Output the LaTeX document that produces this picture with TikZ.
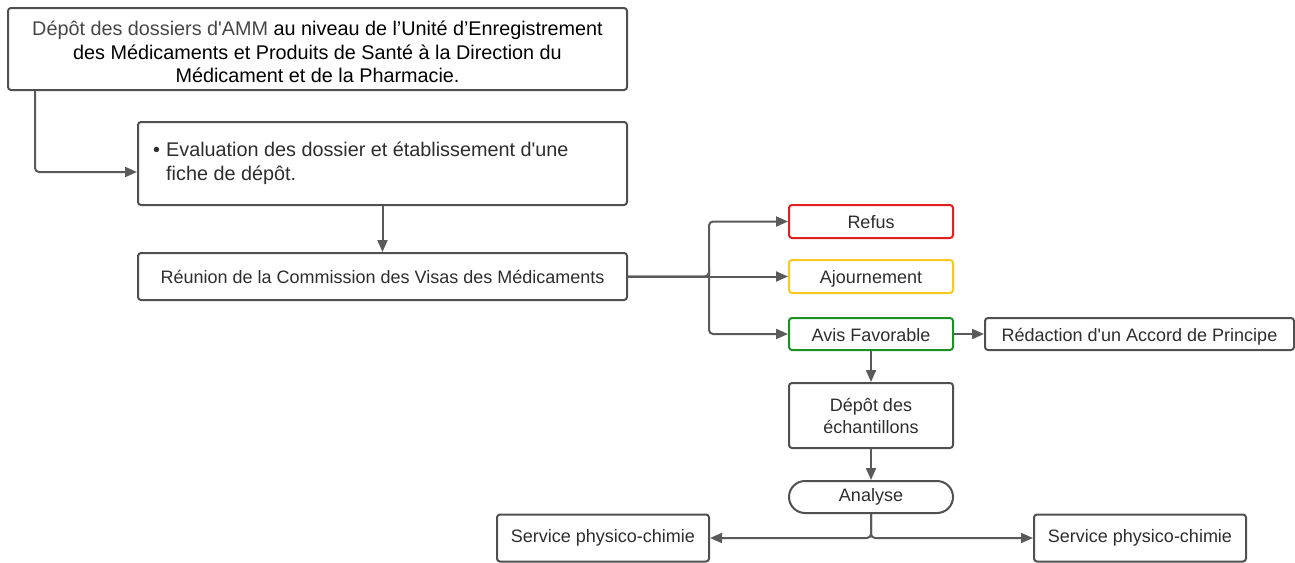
\documentclass[tikz,border=0pt]{standalone}
\usepackage{fontspec}
\setmainfont{Liberation Sans}
\usetikzlibrary{arrows.meta,calc}
\definecolor{linec}{RGB}{90,90,90}
\definecolor{borderc}{RGB}{80,80,80}
\definecolor{textc}{RGB}{45,45,45}
\definecolor{lightt}{RGB}{70,70,70}
\definecolor{redc}{RGB}{228,30,30}
\definecolor{yelc}{RGB}{250,200,30}
\definecolor{grnc}{RGB}{25,145,35}
\newcommand{\sq}{\textquotesingle}
\tikzset{
  box/.style={draw=borderc, line width=2pt, rounded corners=3pt, inner sep=0pt, text=textc, font=\fontsize{18}{22}\selectfont},
  onebox/.style={box, text height=14pt, text depth=0pt},
  bigbox/.style={box, font=\fontsize{19.8}{23.5}\selectfont},
  arr/.style={draw=linec, line width=2pt, -{Triangle[length=12pt,width=10pt]}},
}
\begin{document}
\begin{tikzpicture}[x=1pt,y=-1pt]
\useasboundingbox (0,0) rectangle (1295,562);
\node[bigbox, minimum width=619pt, minimum height=82pt] (top) at (317.5,49) {};
\node[inner sep=0pt, align=center, font=\fontsize{19.8}{23.5}\selectfont] (toptxt) at (317.5,52)
  {{\color{lightt}Dépôt des dossiers d\sq AMM} {\color{black}au niveau de l’Unité d’Enregistrement}\\
   \color{black}des Médicaments et Produits de Santé à la Direction du\\
   \color{black}Médicament et de la Pharmacie.};
\node[bigbox, minimum width=489pt, minimum height=83pt] (eval) at (382.5,163.5) {};
\node[anchor=west, inner sep=0pt, align=left, text=textc, font=\fontsize{19.8}{23.5}\selectfont] (evaltxt) at (153,163.5)
  {\makebox[13pt][l]{•}Evaluation des dossier et établissement d\sq une\\\hspace*{13pt}fiche de dépôt.};
\node[box, font=\fontsize{18}{22}\selectfont, minimum width=489pt, minimum height=47pt] (reunion) at (382.5,276.5)
  {Réunion de la Commission des Visas des Médicaments};
\node[onebox, draw=redc, minimum width=164pt, minimum height=33pt] (refus) at (871,221.5) {Refus};
\node[onebox, draw=yelc, minimum width=164pt, minimum height=33pt] (ajourn) at (871,276.5) {Ajournement};
\node[onebox, draw=grnc, minimum width=164pt, minimum height=32pt] (avis) at (871,334) {Avis Favorable};
\node[onebox, minimum width=309pt, minimum height=32pt] (redac) at (1139.5,334) {Rédaction d\sq un Accord de Principe};
\node[box, minimum width=164pt, minimum height=65pt, align=center] (depot) at (871,415.5) {Dépôt des\\échantillons};
\node[box, rounded corners=16pt, minimum width=164pt, minimum height=32pt] (analyse) at (871,497) {Analyse};
\node[box, minimum width=212pt, minimum height=47pt] (svcL) at (603,538) {Service physico-chimie};
\node[box, minimum width=212pt, minimum height=47pt] (svcR) at (1140,538) {Service physico-chimie};

\draw[arr, rounded corners=4pt] ($(top.south west)+(28,0)$) |- ($(eval.west)+(0,8.5)$);
\draw[arr] (eval.south) -- (reunion.north);
\draw[arr] (reunion.east) -- (ajourn.west);
\draw[arr, rounded corners=4pt] (reunion.east) -| ($(reunion.east)+(81,0)$) |- (refus.west);
\draw[arr, rounded corners=4pt] (reunion.east) -| ($(reunion.east)+(81,0)$) |- (avis.west);
\draw[arr] (avis.east) -- (redac.west);
\draw[arr] (avis.south) -- (depot.north);
\draw[arr] (depot.south) -- (analyse.north);
\draw[arr, rounded corners=4pt] (analyse.south) |- (svcL.east);
\draw[arr, rounded corners=4pt] (analyse.south) |- (svcR.west);
\end{tikzpicture}
\end{document}
